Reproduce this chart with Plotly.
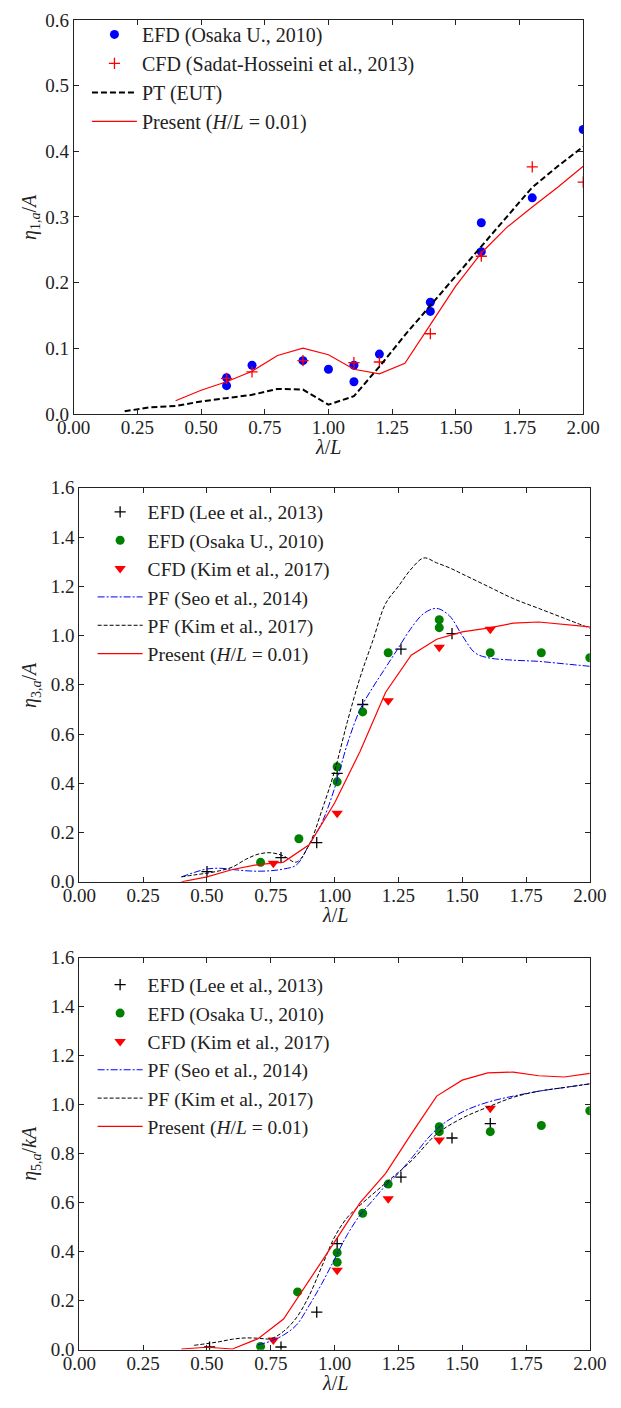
import plotly.graph_objects as go

# ---------------- Panel 1: eta_1,a / A ----------------
p1_efd_x = [0.60, 0.60, 0.70, 0.90, 1.00, 1.10, 1.10, 1.20, 1.40, 1.40, 1.60, 1.60, 1.80, 2.00]
p1_efd_y = [0.055, 0.043, 0.074, 0.081, 0.068, 0.074, 0.049, 0.091, 0.170, 0.156, 0.291, 0.247, 0.329, 0.433]
p1_cfd_x = [0.60, 0.70, 0.90, 1.10, 1.20, 1.40, 1.60, 1.80, 2.00]
p1_cfd_y = [0.054, 0.064, 0.081, 0.078, 0.079, 0.122, 0.240, 0.376, 0.353]
p1_pt_x = [0.20, 0.30, 0.40, 0.50, 0.60, 0.70, 0.80, 0.90, 1.00, 1.10, 1.20, 1.30, 1.40, 1.50, 1.60, 1.70, 1.80, 1.90, 2.00]
p1_pt_y = [0.004, 0.010, 0.012, 0.019, 0.024, 0.029, 0.038, 0.037, 0.014, 0.027, 0.072, 0.120, 0.165, 0.210, 0.256, 0.300, 0.345, 0.377, 0.407]
p1_pr_x = [0.40, 0.50, 0.60, 0.70, 0.80, 0.90, 1.00, 1.10, 1.20, 1.30, 1.40, 1.50, 1.60, 1.70, 1.80, 1.90, 2.00]
p1_pr_y = [0.020, 0.036, 0.049, 0.065, 0.089, 0.100, 0.090, 0.068, 0.061, 0.077, 0.136, 0.195, 0.245, 0.284, 0.315, 0.345, 0.377]

# ---------------- Panel 2: eta_3,a / A ----------------
p2_lee_x = [0.50, 0.79, 0.93, 1.01, 1.11, 1.26, 1.46]
p2_lee_y = [0.041, 0.098, 0.159, 0.440, 0.720, 0.945, 1.008]
p2_osa_x = [0.71, 0.86, 1.01, 1.01, 1.11, 1.21, 1.41, 1.41, 1.61, 1.81, 2.00]
p2_osa_y = [0.079, 0.175, 0.467, 0.406, 0.690, 0.930, 1.064, 1.032, 0.930, 0.930, 0.910]
p2_cfd_x = [0.76, 1.01, 1.21, 1.41, 1.61]
p2_cfd_y = [0.075, 0.278, 0.735, 0.952, 1.026]
p2_seo_x = [0.40, 0.45, 0.50, 0.55, 0.60, 0.65, 0.70, 0.75, 0.80, 0.85, 0.90, 0.95, 1.00, 1.05, 1.10, 1.15, 1.20, 1.25, 1.30, 1.35, 1.40, 1.45, 1.50, 1.55, 1.60, 1.70, 1.80, 1.90, 2.00]
p2_seo_y = [0.020, 0.038, 0.052, 0.055, 0.050, 0.045, 0.043, 0.045, 0.052, 0.068, 0.150, 0.240, 0.380, 0.560, 0.700, 0.790, 0.870, 0.950, 1.030, 1.090, 1.110, 1.080, 1.000, 0.930, 0.910, 0.900, 0.895, 0.885, 0.875]
p2_kim_x = [0.40, 0.45, 0.50, 0.55, 0.60, 0.65, 0.70, 0.75, 0.80, 0.85, 0.90, 0.95, 1.00, 1.05, 1.10, 1.15, 1.20, 1.25, 1.30, 1.35, 1.40, 1.45, 1.50, 1.60, 1.70, 1.80, 1.90, 2.00]
p2_kim_y = [0.020, 0.028, 0.035, 0.045, 0.060, 0.090, 0.112, 0.118, 0.105, 0.080, 0.150, 0.290, 0.450, 0.650, 0.830, 0.980, 1.130, 1.200, 1.270, 1.315, 1.295, 1.275, 1.250, 1.200, 1.150, 1.110, 1.070, 1.030]
p2_pr_x = [0.40, 0.50, 0.60, 0.70, 0.80, 0.90, 1.00, 1.10, 1.20, 1.30, 1.40, 1.50, 1.60, 1.70, 1.80, 1.90, 2.00]
p2_pr_y = [0.000, 0.020, 0.050, 0.070, 0.080, 0.150, 0.320, 0.530, 0.770, 0.920, 0.985, 1.015, 1.030, 1.050, 1.055, 1.045, 1.035]

# ---------------- Panel 3: eta_5,a / kA ----------------
p3_lee_x = [0.51, 0.79, 0.93, 1.01, 1.26, 1.46, 1.61]
p3_lee_y = [0.011, 0.011, 0.153, 0.433, 0.704, 0.864, 0.923]
p3_osa_x = [0.71, 0.855, 1.01, 1.01, 1.11, 1.21, 1.41, 1.41, 1.61, 1.81, 2.00]
p3_osa_y = [0.013, 0.236, 0.396, 0.357, 0.557, 0.676, 0.910, 0.890, 0.890, 0.915, 0.975]
p3_cfd_x = [0.76, 1.01, 1.21, 1.41, 1.61]
p3_cfd_y = [0.040, 0.324, 0.616, 0.856, 0.985]
p3_seo_x = [0.70, 0.75, 0.80, 0.85, 0.90, 0.95, 1.00, 1.05, 1.10, 1.15, 1.20, 1.25, 1.30, 1.40, 1.50, 1.60, 1.70, 1.80, 1.90, 2.00]
p3_seo_y = [0.020, 0.035, 0.060, 0.100, 0.180, 0.270, 0.370, 0.470, 0.550, 0.610, 0.670, 0.720, 0.780, 0.900, 0.970, 1.010, 1.035, 1.055, 1.070, 1.085]
p3_kim_x = [0.45, 0.50, 0.55, 0.60, 0.65, 0.70, 0.75, 0.80, 0.85, 0.90, 0.95, 1.00, 1.05, 1.10, 1.20, 1.30, 1.40, 1.50, 1.60, 1.70, 1.80, 1.90, 2.00]
p3_kim_y = [0.018, 0.025, 0.033, 0.043, 0.048, 0.047, 0.045, 0.075, 0.130, 0.220, 0.340, 0.460, 0.540, 0.590, 0.680, 0.770, 0.880, 0.945, 0.990, 1.030, 1.055, 1.070, 1.085]
p3_pr_x = [0.40, 0.50, 0.60, 0.70, 0.80, 0.90, 1.00, 1.10, 1.20, 1.30, 1.40, 1.50, 1.60, 1.70, 1.80, 1.90, 2.00]
p3_pr_y = [0.003, 0.010, 0.003, 0.045, 0.125, 0.280, 0.440, 0.600, 0.720, 0.880, 1.035, 1.100, 1.130, 1.133, 1.118, 1.113, 1.128]

x_ticks = [0.00, 0.25, 0.50, 0.75, 1.00, 1.25, 1.50, 1.75, 2.00]
x_tick_text = ["0.00", "0.25", "0.50", "0.75", "1.00", "1.25", "1.50", "1.75", "2.00"]
y1_ticks = [0.0, 0.1, 0.2, 0.3, 0.4, 0.5, 0.6]
y1_tick_text = ["0.0", "0.1", "0.2", "0.3", "0.4", "0.5", "0.6"]
y23_ticks = [0.0, 0.2, 0.4, 0.6, 0.8, 1.0, 1.2, 1.4, 1.6]
y23_tick_text = ["0.0", "0.2", "0.4", "0.6", "0.8", "1.0", "1.2", "1.4", "1.6"]

W, H = 621, 1408
FONT = "Liberation Serif, DejaVu Serif, serif"
TFS = 19   # tick font
AFS = 20   # axis title font

def px_x(p):
    return p / W

def px_y(p):
    return 1 - p / H

panels = [
    dict(x0=60, x1=599, y0=10, y1=410),
    dict(x0=66, x1=606, y0=485, y1=885),
    dict(x0=66, x1=606, y0=962, y1=1360),
]

fig = go.Figure()

RED = "#ff0000"
BLUE = "#0000ff"
GREEN = "#008000"

# Panel 1 traces
fig.add_trace(go.Scatter(x=p1_efd_x, y=p1_efd_y, mode="markers", name="EFD (Osaka U., 2010)",
                         marker=dict(color=BLUE, size=9, symbol="circle"), xaxis="x", yaxis="y",
                         legend="legend", legendgroup="a1"))
fig.add_trace(go.Scatter(x=p1_cfd_x, y=p1_cfd_y, mode="markers", name="CFD (Sadat-Hosseini et al., 2013)",
                         marker=dict(color=RED, size=8, symbol="cross-thin", line=dict(color=RED, width=1.3)),
                         xaxis="x", yaxis="y", legend="legend", legendgroup="a2"))
fig.add_trace(go.Scatter(x=p1_pt_x, y=p1_pt_y, mode="lines", name="PT (EUT)",
                         line=dict(color="black", width=2, dash="6px,3px"), xaxis="x", yaxis="y",
                         legend="legend", legendgroup="a3"))
fig.add_trace(go.Scatter(x=p1_pr_x, y=p1_pr_y, mode="lines", name="Present (<i>H</i>/<i>L</i> = 0.01)",
                         line=dict(color=RED, width=1.2), xaxis="x", yaxis="y", legend="legend", legendgroup="a4"))

def add_panel(k, xa, ya, lg, lee_x, lee_y, osa_x, osa_y, cfd_x, cfd_y, seo_x, seo_y, kim_x, kim_y, pr_x, pr_y):
    fig.add_trace(go.Scatter(x=lee_x, y=lee_y, mode="markers", name="EFD (Lee et al., 2013)",
                             marker=dict(color="black", size=8, symbol="cross-thin", line=dict(color="black", width=1.3)),
                             xaxis=xa, yaxis=ya, legend=lg, legendgroup=k + "1"))
    fig.add_trace(go.Scatter(x=osa_x, y=osa_y, mode="markers", name="EFD (Osaka U., 2010)",
                             marker=dict(color=GREEN, size=9, symbol="circle"), xaxis=xa, yaxis=ya,
                             legend=lg, legendgroup=k + "2"))
    fig.add_trace(go.Scatter(x=cfd_x, y=cfd_y, mode="markers", name="CFD (Kim et al., 2017)",
                             marker=dict(color=RED, size=10, symbol="triangle-down"), xaxis=xa, yaxis=ya,
                             legend=lg, legendgroup=k + "3"))
    fig.add_trace(go.Scatter(x=seo_x, y=seo_y, mode="lines", name="PF (Seo et al., 2014)", line_shape="spline",
                             line=dict(color=BLUE, width=1, dash="7px,2px,2px,2px"), xaxis=xa, yaxis=ya,
                             legend=lg, legendgroup=k + "4"))
    fig.add_trace(go.Scatter(x=kim_x, y=kim_y, mode="lines", name="PF (Kim et al., 2017)", line_shape="spline",
                             line=dict(color="black", width=1, dash="4px,2px"), xaxis=xa, yaxis=ya,
                             legend=lg, legendgroup=k + "5"))
    fig.add_trace(go.Scatter(x=pr_x, y=pr_y, mode="lines", name="Present (<i>H</i>/<i>L</i> = 0.01)",
                             line=dict(color=RED, width=1.2), xaxis=xa, yaxis=ya, legend=lg, legendgroup=k + "6"))

add_panel("b", "x2", "y2", "legend2", p2_lee_x, p2_lee_y, p2_osa_x, p2_osa_y, p2_cfd_x, p2_cfd_y,
          p2_seo_x, p2_seo_y, p2_kim_x, p2_kim_y, p2_pr_x, p2_pr_y)
add_panel("c", "x3", "y3", "legend3", p3_lee_x, p3_lee_y, p3_osa_x, p3_osa_y, p3_cfd_x, p3_cfd_y,
          p3_seo_x, p3_seo_y, p3_kim_x, p3_kim_y, p3_pr_x, p3_pr_y)

axis_common = dict(showgrid=False, zeroline=False, showline=True, linecolor="#222", linewidth=1,
                   mirror="ticks", ticks="inside", ticklen=5, tickwidth=1, tickcolor="#222",
                   tickfont=dict(family=FONT, size=TFS, color="#222"))

layout = dict(width=W, height=H, margin=dict(l=0, r=0, t=0, b=0),
              paper_bgcolor="white", plot_bgcolor="white",
              font=dict(family=FONT, size=TFS, color="#222"))

yr = [[0, 0.6], [0, 1.6], [0, 1.6]]
yt = [(y1_ticks, y1_tick_text), (y23_ticks, y23_tick_text), (y23_ticks, y23_tick_text)]
ytitles = ["<i>η</i><sub>1,<i>a</i></sub>/<i>A</i>",
           "<i>η</i><sub>3,<i>a</i></sub>/<i>A</i>",
           "<i>η</i><sub>5,<i>a</i></sub>/<i>kA</i>"]
legend_top = [5, 490, 970]
legend_left = [74, 80, 80]
legend_fs = [20, 19.5, 19.5]
gaps = [0, 0, 0]
annotations = []
for i, p in enumerate(panels):
    sfx = "" if i == 0 else str(i + 1)
    layout["xaxis" + sfx] = dict(axis_common, domain=[px_x(p["x0"]), px_x(p["x1"])], range=[0, 2],
                                 tickvals=x_ticks, ticktext=x_tick_text, anchor="y" + sfx,
                                 ticklabelstandoff=-4)
    layout["yaxis" + sfx] = dict(axis_common, domain=[px_y(p["y1"]), px_y(p["y0"])], range=yr[i],
                                 tickvals=yt[i][0], ticktext=yt[i][1], anchor="x" + sfx)
    layout["legend" + sfx] = dict(x=px_x(legend_left[i]), y=px_y(legend_top[i]), xanchor="left", yanchor="top",
                                  bgcolor="rgba(0,0,0,0)", borderwidth=0, tracegroupgap=gaps[i],
                                  itemwidth=45, font=dict(family=FONT, size=legend_fs[i], color="#222"))
    annotations.append(dict(text="<i>λ</i>/<i>L</i>", x=px_x((p["x0"] + p["x1"]) / 2), y=px_y(p["y1"] + 34),
                            xref="paper", yref="paper", showarrow=False, xanchor="center", yanchor="middle",
                            font=dict(family=FONT, size=AFS, color="#222")))
    annotations.append(dict(text=ytitles[i], x=px_x(15), y=px_y((p["y0"] + p["y1"]) / 2),
                            xref="paper", yref="paper", showarrow=False, textangle=-90,
                            xanchor="center", yanchor="middle",
                            font=dict(family=FONT, size=AFS, color="#222")))
layout["annotations"] = annotations
fig.update_layout(**layout)

fig.write_html("out.html")
